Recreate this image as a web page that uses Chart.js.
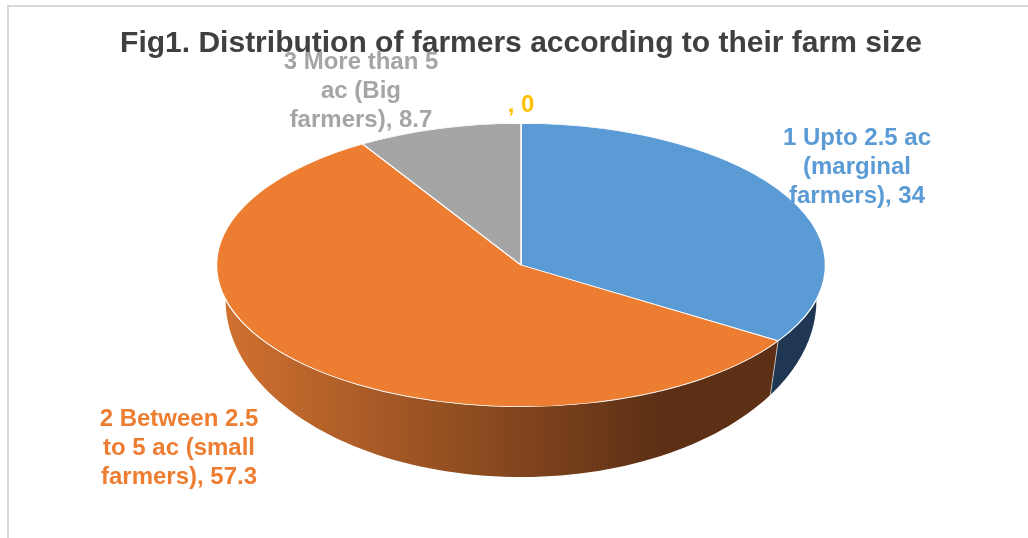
<!DOCTYPE html>
<html>
<head>
<meta charset="utf-8">
<title>Fig1. Distribution of farmers</title>
<script src="https://cdn.jsdelivr.net/npm/chart.js@4.4.0/dist/chart.umd.min.js"></script>
<style>
    html, body { margin: 0; padding: 0; background: #fff; }
    #wrap { width: 1028px; height: 538px; position: relative; }
</style>
</head>
<body>
<div id="wrap"><canvas id="farmChart" width="1028" height="538"></canvas></div>
<script>
// data
const categories = [
    '1 Upto 2.5 ac (marginal farmers)',
    '2 Between 2.5 to 5 ac (small farmers)',
    '3 More than 5 ac (Big farmers)',
    ''
];
const shares = [34, 57.3, 8.7, 0];

// styling
const topColors = ['#5B9BD5', '#ED7D31', '#A5A5A5', '#FFC000'];
const sideColors = [['#2B4A6C', '#1F3752'], ['#D27230', '#5D3015'], ['#7C7C7C', '#555555'], ['#BF9000', '#8F6C00']];
const labelColors = ['#5B9BD5', '#ED7D31', '#A5A5A5', '#FFC000'];
// label block centres, offsets from the pie centre (px)
const labelOffsets = [[336, -98], [-342, 183], [-160, -174], [0, -160]];

const STRETCH_X = 2.15;   // ellipse: horizontal radius / vertical radius
const SIDE = { drop: 35, scaleY: 1.25, scaleX: 0.97 };
const LABEL_FONT = 'bold 24px Arial, "Liberation Sans", sans-serif';
const LABEL_LINE = 29;
const LABEL_WRAP = 170;

function frontPart(start, end) {
    // part of the arc that lies in the front half (0..PI)
    for (let k = -1; k <= 1; k++) {
        const a = Math.max(start, k * 2 * Math.PI);
        const b = Math.min(end, k * 2 * Math.PI + Math.PI);
        if (b > a) return [a - k * 2 * Math.PI, b - k * 2 * Math.PI];
    }
    return null;
}

const pie3d = {
    id: 'pie3d',
    beforeDraw(chart) {
        const ctx = chart.ctx;
        ctx.save();
        ctx.strokeStyle = '#D9D9D9';
        ctx.lineWidth = 2;
        ctx.beginPath();
        ctx.moveTo(8, chart.height);
        ctx.lineTo(8, 6);
        ctx.lineTo(chart.width, 6);
        ctx.stroke();
        ctx.restore();
    },
    beforeDatasetsDraw(chart) {
        const ctx = chart.ctx;
        const arcs = chart.getDatasetMeta(0).data;
        // side walls
        arcs.forEach((arc, i) => {
            const part = frontPart(arc.startAngle, arc.endAngle);
            if (!part) return;
            const [a, b] = part;
            const ry = arc.outerRadius, rx = ry * STRETCH_X;
            const ryB = ry * SIDE.scaleY, rxB = rx * SIDE.scaleX;
            const cx = arc.x, cy = arc.y;
            const g = ctx.createLinearGradient(cx - rx, 0, cx + rx * 0.45, 0);
            g.addColorStop(0, sideColors[i][0]);
            g.addColorStop(1, sideColors[i][1]);
            const steps = 80;
            ctx.save();
            ctx.fillStyle = g;
            ctx.beginPath();
            for (let s = 0; s <= steps; s++) {
                const t = a + (b - a) * s / steps;
                const px = cx + rx * Math.cos(t), py = cy + ry * Math.sin(t);
                s ? ctx.lineTo(px, py) : ctx.moveTo(px, py);
            }
            for (let s = steps; s >= 0; s--) {
                const t = a + (b - a) * s / steps;
                ctx.lineTo(cx + rxB * Math.cos(t), cy + SIDE.drop + ryB * Math.sin(t));
            }
            ctx.closePath();
            ctx.fill();
            if (a > 0.001) {
                ctx.strokeStyle = 'rgba(255,255,255,0.7)';
                ctx.lineWidth = 0.8;
                ctx.beginPath();
                ctx.moveTo(cx + rx * Math.cos(a), cy + ry * Math.sin(a));
                ctx.lineTo(cx + rxB * Math.cos(a), cy + SIDE.drop + ryB * Math.sin(a));
                ctx.stroke();
            }
            ctx.restore();
        });
        // squash the round pie into an ellipse for the top face
        const c = arcs[0];
        ctx.save();
        ctx.translate(c.x, c.y);
        ctx.scale(STRETCH_X, 1);
        ctx.translate(-c.x, -c.y);
    },
    afterDatasetsDraw(chart) {
        const ctx = chart.ctx;
        ctx.restore();
        const arcs = chart.getDatasetMeta(0).data;
        const cx = arcs[0].x, cy = arcs[0].y;
        ctx.save();
        ctx.font = LABEL_FONT;
        ctx.textAlign = 'center';
        ctx.textBaseline = 'middle';
        shares.forEach((v, i) => {
            const text = categories[i] + ', ' + v;
            const words = text.split(' ');
            const lines = [];
            let cur = '';
            words.forEach(w => {
                const test = cur ? cur + ' ' + w : w;
                if (cur && ctx.measureText(test).width > LABEL_WRAP) {
                    lines.push(cur);
                    cur = w;
                } else {
                    cur = test;
                }
            });
            if (cur) lines.push(cur);
            const x = cx + labelOffsets[i][0];
            const y0 = cy + labelOffsets[i][1] - (lines.length - 1) * LABEL_LINE / 2;
            ctx.fillStyle = labelColors[i];
            lines.forEach((ln, j) => ctx.fillText(ln, x, y0 + j * LABEL_LINE));
        });
        ctx.restore();
    }
};

new Chart(document.getElementById('farmChart'), {
    type: 'pie',
    data: {
        labels: categories,
        datasets: [{
            data: shares,
            backgroundColor: topColors,
            borderColor: '#FFFFFF',
            borderWidth: 0.7,
            clip: false
        }]
    },
    options: {
        responsive: false,
        animation: false,
        events: [],
        layout: { padding: { left: 14, right: 0, top: 0, bottom: 131 } },
        plugins: {
            legend: { display: false },
            tooltip: { enabled: false },
            title: {
                display: true,
                text: 'Fig1. Distribution of farmers according to their farm size',
                color: '#404040',
                font: { family: 'Arial, "Liberation Sans", sans-serif', size: 30, weight: 'bold' },
                padding: { top: 26, bottom: 61 }
            }
        }
    },
    plugins: [pie3d]
});
</script>
</body>
</html>
